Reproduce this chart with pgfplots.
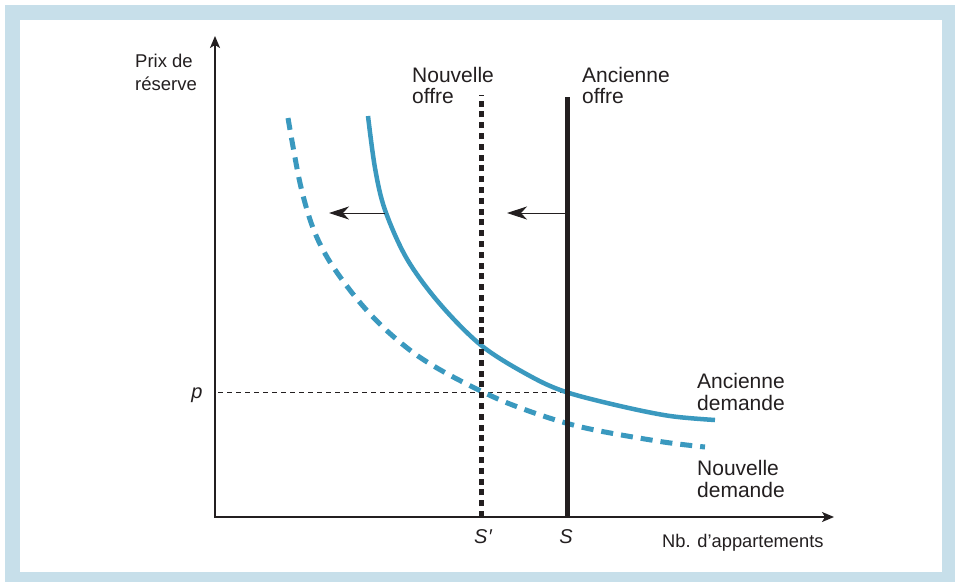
\documentclass[border=0pt]{standalone}
\usepackage{fontspec}
\setmainfont{Liberation Sans}
\usepackage{pgfplots}
\pgfplotsset{compat=1.18}
\usetikzlibrary{arrows.meta}
\definecolor{frameblue}{HTML}{C7DFEA}
\definecolor{teal}{HTML}{3A99BF}
\definecolor{ink}{HTML}{231F20}
\begin{document}
\begin{tikzpicture}
\begin{axis}[
  scale only axis, width=955pt, height=582pt,
  xmin=0, xmax=955, ymin=0, ymax=582, y dir=reverse,
  hide axis, clip=false,
]
% frame
\addplot[fill=white, draw=none] coordinates {(0,0) (955,0) (955,582) (0,582)} -- cycle;
\addplot[fill=frameblue, draw=none] coordinates {(5,5) (955,5) (955,582) (5,582)} -- cycle;
\addplot[fill=white, draw=none] coordinates {(20,20) (942,20) (942,572) (20,572)} -- cycle;
% axes
\addplot[ink, line width=1.6pt, -{Stealth[length=12pt,width=10pt,inset=3pt]}] coordinates {(215,517.8) (215,36)};
\addplot[ink, line width=1.6pt, -{Stealth[length=12pt,width=10pt,inset=3pt]}] coordinates {(214.2,517) (834,517)};
% price dashed line
\addplot[ink, line width=0.9pt, dash pattern=on 5pt off 4pt] coordinates {(218,392) (567,392)};
% new demand (dashed)
\addplot[teal, line width=5pt, dash pattern=on 12pt off 8pt, smooth, tension=0.55] coordinates {
(288,118) (300,183) (313,228) (330,262) (357,299) (385,329)
(418,356) (457,379) (510,404) (577,426) (657,441) (705,447)};
% old demand (solid)
\addplot[teal, line width=4.5pt, smooth, tension=0.55] coordinates {
(368,116) (375,168) (385,210) (407,259) (440,304) (482,346) (530,376) (566,392) (620,406) (670,416) (715,420)};
% supply lines
\addplot[ink, line width=5pt] coordinates {(567,517) (567,97)};
\addplot[ink, line width=5pt, dash pattern=on 6pt off 4.8pt] coordinates {(481,517) (481,95)};
% shift arrows
\addplot[ink, line width=0.9pt, -{Stealth[length=20pt,width=13pt,inset=6pt]}] coordinates {(385,213) (329,213)};
\addplot[ink, line width=0.9pt, -{Stealth[length=20pt,width=13pt,inset=6pt]}] coordinates {(565,213) (507,213)};
% labels
\node[anchor=base west, inner sep=0pt, font=\fontsize{18.5}{20}\selectfont, text=ink] at (axis cs:135,67) {Prix de};
\node[anchor=base west, inner sep=0pt, font=\fontsize{18.5}{20}\selectfont, text=ink] at (axis cs:135,90) {réserve};
\node[anchor=base west, inner sep=0pt, font=\fontsize{21}{22}\selectfont, text=ink] at (axis cs:412,82) {Nouvelle};
\node[anchor=base west, inner sep=0pt, font=\fontsize{21}{22}\selectfont, text=ink] at (axis cs:412,103) {offre};
\node[anchor=base west, inner sep=0pt, font=\fontsize{21}{22}\selectfont, text=ink] at (axis cs:582,82) {Ancienne};
\node[anchor=base west, inner sep=0pt, font=\fontsize{21}{22}\selectfont, text=ink] at (axis cs:582,103) {offre};
\node[anchor=base west, inner sep=0pt, font=\fontsize{21}{22}\selectfont, text=ink] at (axis cs:697,388) {Ancienne};
\node[anchor=base west, inner sep=0pt, font=\fontsize{21}{22}\selectfont, text=ink] at (axis cs:697,410) {demande};
\node[anchor=base west, inner sep=0pt, font=\fontsize{21}{22}\selectfont, text=ink] at (axis cs:697,475) {Nouvelle};
\node[anchor=base west, inner sep=0pt, font=\fontsize{21}{22}\selectfont, text=ink] at (axis cs:697,497) {demande};
\node[anchor=base west, inner sep=0pt, font=\fontsize{18.3}{20}\selectfont, text=ink] at (axis cs:662,547) {Nb. d’appartements};
\node[anchor=base, inner sep=0pt, font=\fontsize{20}{22}\selectfont\itshape, text=ink] at (axis cs:197,398) {p};
\node[anchor=base, inner sep=0pt, font=\fontsize{20}{22}\selectfont\itshape, text=ink] at (axis cs:483,543) {S\kern0.5pt\char"2032};
\node[anchor=base, inner sep=0pt, font=\fontsize{20}{22}\selectfont\itshape, text=ink] at (axis cs:566,543) {S};
\end{axis}
\end{tikzpicture}
\end{document}
